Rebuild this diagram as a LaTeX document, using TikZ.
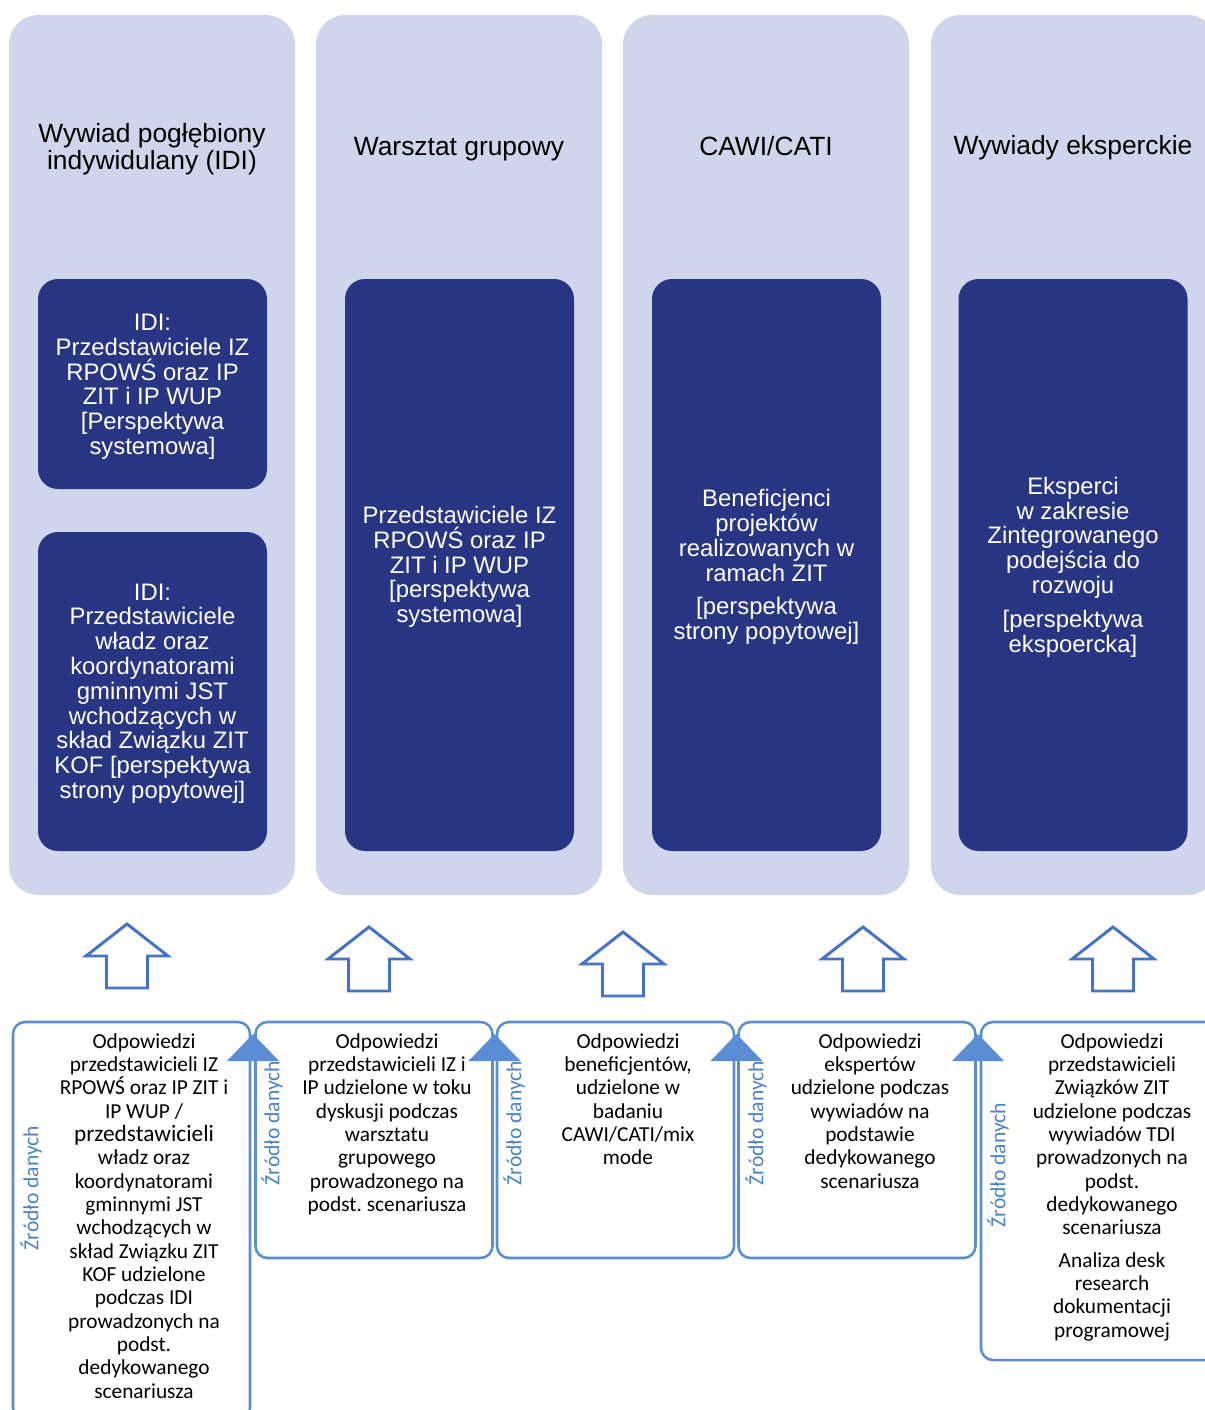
\documentclass[tikz,border=0pt]{standalone}
\usepackage{fontspec}
\setmainfont{Liberation Sans}
\newfontfamily\carl{Carlito}
\frenchspacing
\definecolor{lightcol}{HTML}{CFD5EA}
\definecolor{darkcol}{HTML}{283583}
\definecolor{boxblue}{HTML}{5B8ECF}
\definecolor{trifill}{HTML}{5B8DD6}
\definecolor{lblblue}{HTML}{4A84C6}
\definecolor{uparrcol}{HTML}{4472C4}
\tikzset{
  colbox/.style={fill=lightcol, draw=none, rounded corners=22pt, minimum width=214.5pt, minimum height=660pt, inner sep=0},
  darkbox/.style={fill=darkcol, draw=none, rounded corners=15pt, minimum width=171.75pt, inner sep=0},
  titletxt/.style={inner sep=0, align=center, font=\fontsize{19.8}{20.25}\selectfont},
  darktxt/.style={inner sep=0, align=center, text=white, font=\fontsize{17.9}{18.6}\selectfont},
  srcbox/.style={draw=boxblue, line width=1.9pt, rounded corners=9pt, minimum width=177.75pt, inner sep=0},
  srctxt/.style={inner sep=0, align=center, anchor=north, font=\carl\fontsize{16}{17.5}\selectfont},
  srclbl/.style={inner sep=0, rotate=90, text=lblblue, font=\carl\fontsize{16.2}{17.5}\selectfont},
  tri/.style={fill=trifill, draw=none},
  uparr/.style={draw=uparrcol, line width=2.2pt, fill=white, line join=miter}
}
\begin{document}
\begin{tikzpicture}[x=0.75pt, y=-0.75pt]
\useasboundingbox (0,0) rectangle (1205,1410);
\clip (0,0) rectangle (1205,1410);
% columns
\node[colbox] (c1) at (152,455) {};
\node[colbox] (c2) at (459,455) {};
\node[colbox] (c3) at (766,455) {};
\node[colbox] (c4) at (1074,455) {};
% titles
\node[titletxt] (h1) at (152,149) {Wywiad pogłębiony\\indywidulany (IDI)};
\node[titletxt] (h2) at (459,149) {Warsztat grupowy};
\node[titletxt] (h3) at (766,146) {CAWI/CATI};
\node[titletxt] (h4) at (1073,148) {Wywiady eksperckie};
% dark boxes
\node[darkbox, minimum height=157.5pt] (d1a) at (152.5,384) {};
\node[darkbox, minimum height=239.25pt] (d1b) at (152.5,691.5) {};
\node[darkbox, minimum height=429pt] (d2) at (459.5,565) {};
\node[darkbox, minimum height=429pt] (d3) at (766.5,565) {};
\node[darkbox, minimum height=429pt] (d4) at (1073,565) {};
\node[darktxt] (x1a) at ([yshift=-2pt]d1a) {IDI:\\Przedstawiciele IZ\\RPOWŚ oraz IP\\ZIT i IP WUP\\{[}Perspektywa\\systemowa]};
\node[darktxt] (x1b) at ([yshift=-1.5pt]d1b) {IDI:\\Przedstawiciele\\władz oraz\\koordynatorami\\gminnymi JST\\wchodzących w\\skład Związku ZIT\\KOF [perspektywa\\strony popytowej]};
\node[darktxt] (x2) at ([yshift=-1.5pt]d2) {Przedstawiciele IZ\\RPOWŚ oraz IP\\ZIT i IP WUP\\{[}perspektywa\\systemowa]};
\node[darktxt] (x3) at ([yshift=-1.5pt]d3) {Beneficjenci\\projektów\\realizowanych w\\ramach ZIT\\[6.75pt]{[}perspektywa\\strony popytowej]};
\node[darktxt] (x4) at ([yshift=-1.5pt]d4) {Eksperci\\w zakresie\\Zintegrowanego\\podejścia do\\rozwoju\\[6.75pt]{[}perspektywa\\ekspoercka]};
% up arrows
\foreach \ax/\ay [count=\i] in {127/924, 369/927, 623/932, 863/927, 1113/927} {
  \draw[uparr] (\ax,\ay) -- ++(41,32) -- ++(-20.5,0) -- ++(0,32) -- ++(-41,0) -- ++(0,-32) -- ++(-20.5,0) -- cycle;
}
% source boxes
\node[srcbox, minimum height=298.5pt] (b1) at (131.5,1221) {};
\node[srcbox, minimum height=177pt] (b2) at (374,1140) {};
\node[srcbox, minimum height=177pt] (b3) at (615.5,1140) {};
\node[srcbox, minimum height=177pt] (b4) at (857,1140) {};
\node[srcbox, minimum height=253.5pt] (b5) at (1099.5,1191) {};
% triangles
\foreach \tx in {253, 494.5, 736.5, 978} {
  \fill[tri] (\tx,1034) -- (\tx+26,1061) -- (\tx-26,1061) -- cycle;
}
% labels
\node[srclbl] (s1) at (31,1188) {Źródło danych};
\node[srclbl] (s2) at (272,1123) {Źródło danych};
\node[srclbl] (s3) at (514,1123) {Źródło danych};
\node[srclbl] (s4) at (756,1123) {Źródło danych};
\node[srclbl] (s5) at (998,1165) {Źródło danych};
% texts
\node[srctxt] (t1) at (144,1033) {Odpowiedzi\\przedstawicieli IZ\\RPOWŚ oraz IP ZIT i\\IP WUP /\\{\fontsize{17.5}{17.5}\selectfont przedstawicieli}\\władz oraz\\koordynatorami\\gminnymi JST\\wchodzących w\\skład Związku ZIT\\KOF udzielone\\podczas IDI\\prowadzonych na\\podst.\\dedykowanego\\scenariusza};
\node[srctxt] (t2) at (387,1033) {Odpowiedzi\\przedstawicieli IZ i\\IP udzielone w toku\\dyskusji podczas\\warsztatu\\grupowego\\prowadzonego na\\podst. scenariusza};
\node[srctxt] (t3) at (628,1033) {Odpowiedzi\\beneficjentów,\\udzielone w\\badaniu\\CAWI/CATI/mix\\mode};
\node[srctxt] (t4) at (870,1033) {Odpowiedzi\\ekspertów\\udzielone podczas\\wywiadów na\\podstawie\\dedykowanego\\scenariusza};
\node[srctxt] (t5) at (1112,1033) {Odpowiedzi\\przedstawicieli\\Związków ZIT\\udzielone podczas\\wywiadów TDI\\prowadzonych na\\podst.\\dedykowanego\\scenariusza\\[6.75pt]Analiza desk\\research\\dokumentacji\\programowej};
\end{tikzpicture}
\end{document}
